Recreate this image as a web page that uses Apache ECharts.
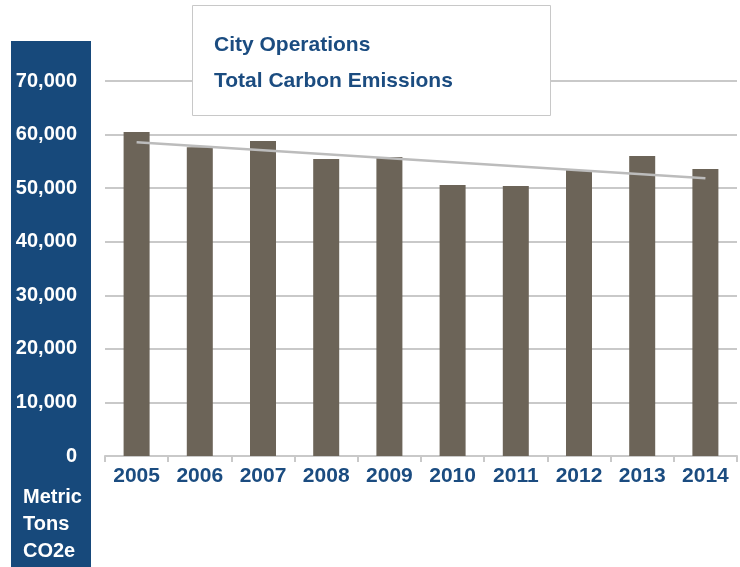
<!DOCTYPE html>
<html>
<head>
<meta charset="utf-8">
<script src="https://cdn.jsdelivr.net/npm/echarts@6/dist/echarts.min.js"></script>
<style>
  html, body { margin: 0; padding: 0; background: #fff; }
  #chart { width: 740px; height: 567px; }
</style>
</head>
<body>
<div id="chart"></div>
<script>
// data
const years = ['2005', '2006', '2007', '2008', '2009', '2010', '2011', '2012', '2013', '2014']
const emissions = [60480, 57620, 58800, 55440, 55800, 50590, 50400, 53390, 56000, 53570]
// linear trend, only the two ends are drawn
const trend = [58550, null, null, null, null, null, null, null, null, 51850]

const FONT = '"Liberation Sans", Arial, sans-serif'
const BLUE_PANEL = '#17497b'
const BLUE_TEXT = '#1b4c80'
const GRID = '#c9c9c9'

const chart = echarts.init(document.getElementById('chart'))

chart.setOption({
  animation: false,
  title: {
    text: 'City Operations\nTotal Carbon Emissions',
    left: 214,
    top: 27,
    padding: 0,
    z: 110,
    textStyle: {
      fontFamily: FONT,
      fontWeight: 'bold',
      fontSize: 21,
      lineHeight: 36,
      color: BLUE_TEXT
    }
  },
  graphic: [
    {
      type: 'rect',
      z: 1,
      shape: {x: 11, y: 41, width: 80, height: 530},
      style: {fill: BLUE_PANEL}
    },
    {
      type: 'rect',
      z: 100,
      shape: {x: 192.5, y: 5.5, width: 358, height: 110},
      style: {fill: '#fff', stroke: '#c8c8c8', lineWidth: 1}
    },
    {
      type: 'text',
      z: 100,
      left: 23,
      top: 484,
      style: {
        text: 'Metric\nTons\nCO2e',
        fontFamily: FONT,
        fontWeight: 'bold',
        fontSize: 20,
        lineHeight: 27,
        fill: '#fff'
      }
    }
  ],
  grid: {left: 105, right: 3, top: 81, bottom: 111, containLabel: false},
  xAxis: {
    type: 'category',
    data: years,
    boundaryGap: true,
    z: 10,
    axisLine: {lineStyle: {color: GRID, width: 2}},
    axisTick: {show: true, alignWithLabel: false, length: 6, lineStyle: {color: GRID, width: 2}},
    axisLabel: {
      interval: 0,
      margin: 10,
      fontFamily: FONT,
      fontWeight: 'bold',
      fontSize: 21,
      color: BLUE_TEXT
    }
  },
  yAxis: {
    type: 'value',
    min: 0,
    max: 70000,
    interval: 10000,
    z: 10,
    axisLine: {show: false},
    axisTick: {show: false},
    splitLine: {lineStyle: {color: GRID, width: 2}},
    axisLabel: {
      margin: 28,
      fontFamily: FONT,
      fontWeight: 'bold',
      fontSize: 20,
      color: '#fff',
      formatter: v => v.toLocaleString('en-US')
    }
  },
  series: [
    {
      type: 'bar',
      data: emissions,
      barWidth: 26,
      z: 20,
      itemStyle: {color: '#6c6458'}
    },
    {
      type: 'line',
      data: trend,
      connectNulls: true,
      symbol: 'none',
      z: 30,
      lineStyle: {color: '#bcbcbc', width: 2.5}
    }
  ]
})
</script>
</body>
</html>
